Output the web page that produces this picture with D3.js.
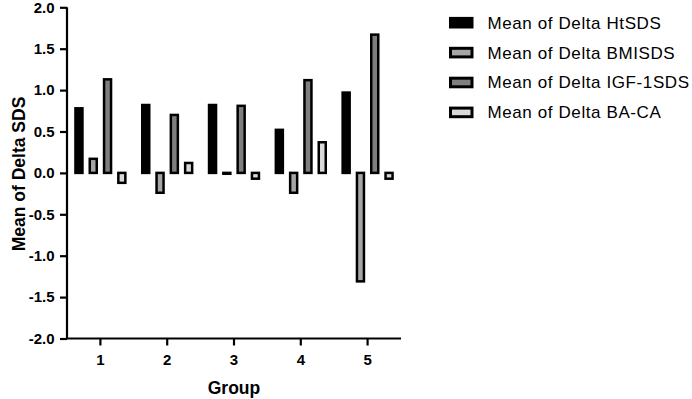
<!DOCTYPE html>
<html><head><meta charset="utf-8">
<script src="https://cdn.jsdelivr.net/npm/d3@7"></script>
<style>
html,body{margin:0;padding:0;background:#fff;}
svg{display:block;font-family:"Liberation Sans",Arial,sans-serif;}
</style>
</head><body>
<svg id="chart" width="692" height="399"></svg>
<script>
const groups = ["1","2","3","4","5"];
const seriesNames = ["Mean of Delta HtSDS","Mean of Delta BMISDS","Mean of Delta IGF-1SDS","Mean of Delta BA-CA"];
const htSDS  = [0.78, 0.82, 0.82, 0.52, 0.97];
const bmiSDS = [0.17, -0.24, -0.01, -0.24, -1.31];
const igfSDS = [1.13, 0.70, 0.81, 1.12, 1.67];
const baCA   = [-0.12, 0.12, -0.07, 0.37, -0.07];
const yTicks = [-2.0,-1.5,-1.0,-0.5,0.0,0.5,1.0,1.5,2.0];
const fills = ["#000000","#a6a6a6","#7f7f7f","#d9d9d9"];

const seriesValues = [htSDS, bmiSDS, igfSDS, baCA];
const svg = d3.select("#chart");

const x0 = d3.scaleBand().domain(groups).range([67, 401]).padding(0);
const x1 = d3.scaleBand().domain(seriesNames).range([-28.6, 28.6]).padding(0);
const y = d3.scaleLinear().domain([-2, 2]).range([338.5, 7.3]);

const barW = x1.bandwidth() * 0.49;

const rows = [];
groups.forEach((g, gi) => {
  seriesNames.forEach((s, si) => {
    rows.push({g, s, si, v: seriesValues[si][gi]});
  });
});

svg.append("g").selectAll("rect").data(rows).join("rect")
  .attr("x", d => x0(d.g) + x0.bandwidth()/2 + x1(d.s) + (x1.bandwidth()-barW)/2)
  .attr("width", barW)
  .attr("y", d => Math.min(y(d.v), y(0)))
  .attr("height", d => Math.abs(y(d.v) - y(0)))
  .attr("fill", d => fills[d.si])
  .attr("stroke", "#000")
  .attr("stroke-width", 2.5);

// Y axis
const yAxis = svg.append("g").attr("transform", "translate(67,0)")
  .call(d3.axisLeft(y).tickValues(yTicks).tickFormat(d => d.toFixed(1)).tickSize(7).tickPadding(5.5).tickSizeOuter(0));
// X axis
const xAxis = svg.append("g").attr("transform", "translate(0,338.5)")
  .call(d3.axisBottom(x0).tickSize(7).tickPadding(9).tickSizeOuter(0));

[yAxis, xAxis].forEach(a => {
  a.attr("font-size", null).attr("font-family", null);
  a.select(".domain").attr("stroke", "#000").attr("stroke-width", 2.2);
  a.selectAll(".tick line").attr("stroke", "#000").attr("stroke-width", 2.2);
  a.selectAll(".tick text").attr("fill", "#000")
    .style("font-family", '"Liberation Sans",Arial,sans-serif')
    .style("font-size", "15px").style("font-weight", "bold");
});
yAxis.select(".domain").attr("d", "M0," + y(2) + "V" + y(-2));
xAxis.select(".domain").attr("d", "M66," + 0 + "H401");

// Axis titles
svg.append("text").attr("x", 234).attr("y", 393.5)
  .attr("text-anchor", "middle").style("font-size", "17.5px").style("font-weight", "bold")
  .text("Group");
svg.append("text").attr("transform", "translate(25,174) rotate(-90)")
  .attr("text-anchor", "middle").style("font-size", "17.5px").style("font-weight", "bold")
  .text("Mean of Delta SDS");

// Legend
const leg = svg.append("g").selectAll("g").data(seriesNames).join("g")
  .attr("transform", (d, i) => "translate(0," + (22.7 + i * 29.9) + ")");
leg.append("rect").attr("x", 450.5).attr("y", -4.3).attr("width", 21.5).attr("height", 8.6)
  .attr("fill", (d, i) => fills[i]).attr("stroke", "#000").attr("stroke-width", 3);
leg.append("text").attr("x", 487.5).attr("y", 0).attr("dy", "0.35em")
  .style("font-size", "17px").style("letter-spacing", "0.6px").attr("fill", "#000")
  .text(d => d);
</script>
</body></html>
